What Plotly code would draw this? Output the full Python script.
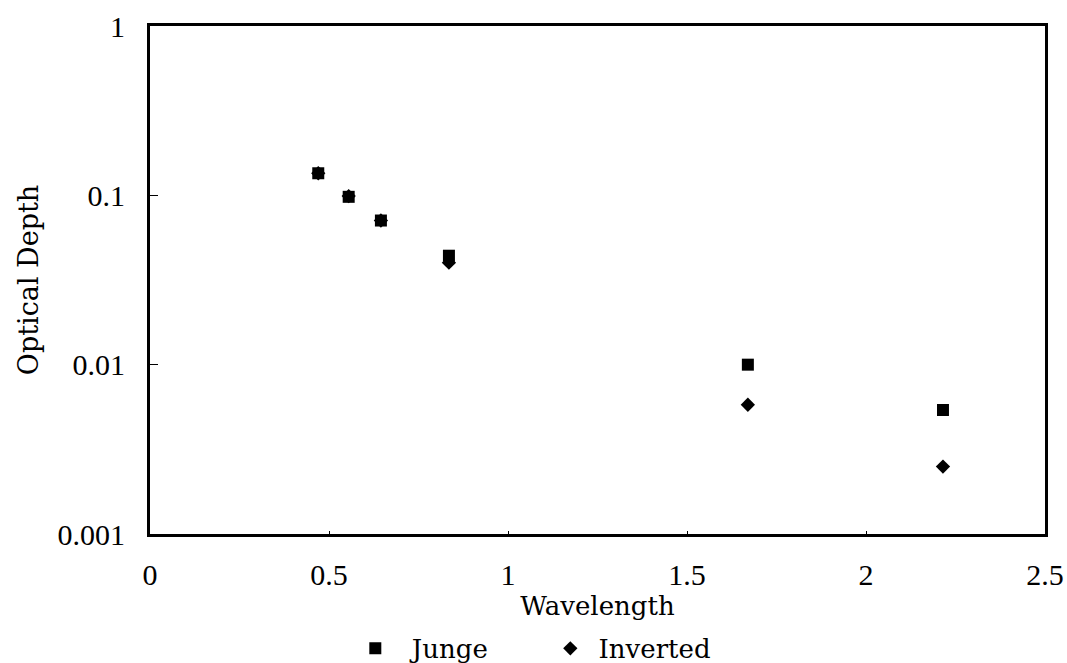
import plotly.graph_objects as go

wavelength = [0.47, 0.555, 0.645, 0.835, 1.67, 2.215]
junge = [0.135, 0.098, 0.071, 0.044, 0.0100, 0.0054]
inverted = [0.135, 0.099, 0.071, 0.040, 0.0058, 0.0025]

xticks = [0, 0.5, 1, 1.5, 2, 2.5]
xticklabels = ["0", "0.5", "1", "1.5", "2", "2.5"]
yticks = [0.001, 0.01, 0.1, 1]
yticklabels = ["0.001", "0.01", "0.1", "1"]

TICKFONT = "Liberation Serif"
TITLEFONT = "DejaVu Serif"
NB = "\u00a0"

fig = go.Figure()
fig.add_trace(go.Scatter(
    x=wavelength, y=junge, mode="markers", name=NB * 2 + "Junge",
    marker=dict(symbol="square", size=12, color="black"),
))
fig.add_trace(go.Scatter(
    x=wavelength, y=inverted, mode="markers", name=NB + "Inverted",
    marker=dict(symbol="diamond", size=11, color="black"),
))

fig.update_layout(
    width=1067, height=663,
    margin=dict(l=150, r=22, t=26, b=129, autoexpand=False),
    paper_bgcolor="white", plot_bgcolor="white",
    font=dict(family=TITLEFONT, size=26, color="black"),
    showlegend=True,
    legend=dict(orientation="h", xref="container", yref="container",
                x=0.333, xanchor="left", y=0.022, yanchor="middle",
                font=dict(family=TITLEFONT, size=26),
                entrywidthmode="pixels", entrywidth=150,
                traceorder="normal", bgcolor="rgba(0,0,0,0)"),
    xaxis=dict(
        range=[0, 2.5], tickvals=xticks, ticktext=xticklabels,
        showline=True, linecolor="black", linewidth=3, mirror=True,
        ticks="inside", ticklen=3, tickcolor="black", showgrid=False, zeroline=False,
        tickfont=dict(family=TICKFONT, size=30), ticklabelstandoff=12,
        title=dict(text="Wavelength" + NB * 6, standoff=2,
                   font=dict(family=TITLEFONT, size=26)),
        automargin=False,
    ),
    yaxis=dict(
        type="log", range=[-3, 0], tickvals=yticks, ticktext=yticklabels,
        showline=True, linecolor="black", linewidth=3, mirror=True,
        ticks="inside", ticklen=8, tickcolor="black", showgrid=False, zeroline=False,
        tickfont=dict(family=TICKFONT, size=30), ticklabelstandoff=16,
        title=dict(text="Optical Depth", standoff=12,
                   font=dict(family=TITLEFONT, size=27)),
        automargin=False,
    ),
)

fig.write_html("out.html")
